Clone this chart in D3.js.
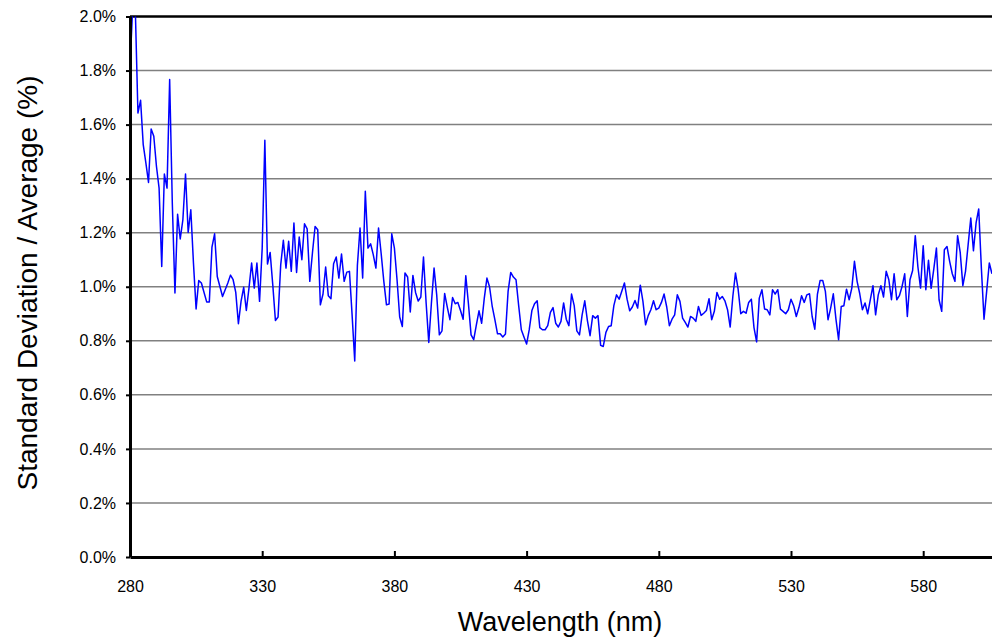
<!DOCTYPE html>
<html>
<head>
<meta charset="utf-8">
<script src="https://cdn.jsdelivr.net/npm/d3@7"></script>
<style>
  html, body { margin: 0; padding: 0; background: #fff; }
  svg { display: block; font-family: "Liberation Sans", Arial, sans-serif; }
</style>
</head>
<body>
<script>
// ---- data ----
const wavelengths = [
  280,281,282,283,284,285,286,287,288,289,290,291,292,293,294,295,296,297,298,299,
  300,301,302,303,304,305,306,307,309,310,311,312,313,315,317,318,
  319,320,321,322,323,324,325,326,327,328,329,330,331,332,333,334,335,336,337,338,339,
  340,341,342,343,344,345,346,347,348,349,350,351,352,353,354,355,356,357,358,359,
  360,361,362,363,364,365,366,367,368,369,370,371,372,373,374,375,376,377,378,379,
  380,381,382,383,384,385,386,387,388,389,390,391,392,393,394,395,396,397,398,399,
  400,401,402,403,404,405,406,407,408,409,410,411,412,413,414,415,416,417,418,419,
  420,421,422,423,424,425,426,427,428,429,430,431,432,433,434,435,436,437,438,439,
  440,441,442,443,444,445,446,447,448,449,450,451,452,453,454,455,456,457,458,459,
  460,461,462,463,464,465,466,467,468,469,470,471,472,473,474,475,476,477,478,479,
  480,481,482,483,484,485,486,487,488,489,490,491,492,493,494,495,496,497,498,499,
  500,501,502,503,504,505,506,507,508,509,510,511,512,513,514,515,516,517,518,519,
  520,521,522,523,524,525,526,527,528,529,530,531,532,533,534,535,536,537,538,539,
  540,541,542,543,544,545,546,547,548,549,550,551,552,553,554,555,556,557,558,559,
  560,561,562,563,564,565,566,567,568,569,570,571,572,573,574,575,576,577,578,579,
  580,581,582,583,584,585,586,587,588,589,590,591,592,593,594,595,596,597,598,599,
  600,601,602,603,604,605,606
];
const stdPct = [
  1.816,2.03,2.03,1.643,1.690,1.526,1.458,1.386,1.584,1.557,1.446,1.365,1.075,1.417,1.365,1.767,1.31,0.977,1.268,1.177,
  1.248,1.417,1.201,1.285,1.088,0.918,1.023,1.014,0.944,0.944,1.147,1.196,1.038,0.964,1.014,1.043,
  1.026,0.979,0.863,0.946,0.998,0.912,0.995,1.088,0.995,1.088,0.946,1.143,1.542,1.084,1.127,1.007,0.875,0.888,1.081,1.172,1.069,
  1.168,1.057,1.236,1.053,1.184,1.100,1.233,1.214,1.020,1.125,1.223,1.211,0.933,0.973,1.073,0.967,0.956,1.085,1.110,1.032,
  1.121,1.020,1.054,1.057,0.896,0.725,1.079,1.217,1.032,1.353,1.143,1.159,1.119,1.069,1.217,1.122,1.020,0.933,0.936,1.196,
  1.143,1.026,0.888,0.853,1.051,1.036,0.907,1.042,0.979,0.947,0.962,1.110,0.940,0.794,0.940,1.069,0.970,0.822,0.837,0.975,
  0.925,0.878,0.960,0.937,0.942,0.912,0.880,1.041,0.937,0.822,0.804,0.859,0.911,0.865,0.958,1.032,0.999,0.927,0.878,0.826,
  0.826,0.814,0.825,0.983,1.053,1.036,1.026,0.930,0.841,0.814,0.788,0.841,0.912,0.937,0.948,0.849,0.841,0.841,0.856,0.905,
  0.923,0.865,0.851,0.872,0.940,0.880,0.856,0.973,0.930,0.837,0.822,0.896,0.948,0.875,0.819,0.893,0.884,0.893,0.783,0.779,
  0.831,0.853,0.856,0.930,0.970,0.954,0.983,1.014,0.954,0.911,0.925,0.949,0.921,1.006,0.946,0.859,0.893,0.915,0.948,0.915,
  0.921,0.942,0.973,0.925,0.856,0.880,0.896,0.970,0.946,0.884,0.868,0.851,0.890,0.884,0.872,0.927,0.894,0.902,0.912,0.956,
  0.878,0.909,0.979,0.954,0.964,0.948,0.915,0.851,0.964,1.051,0.991,0.900,0.909,0.902,0.942,0.954,0.849,0.796,0.958,0.989,
  0.918,0.915,0.896,0.989,0.973,0.989,0.917,0.909,0.900,0.915,0.954,0.930,0.890,0.923,0.967,0.942,0.970,0.974,0.890,0.843,
  0.973,1.023,1.023,0.983,0.878,0.921,0.974,0.880,0.804,0.927,0.930,0.991,0.952,0.995,1.094,1.020,0.974,0.915,0.940,0.900,
  0.952,1.004,0.896,0.970,1.004,0.962,1.057,1.026,0.952,1.048,0.952,0.967,1.001,1.048,0.890,1.026,1.060,1.189,1.073,0.995,
  1.152,0.989,1.098,0.994,1.065,1.143,0.952,0.909,1.137,1.149,1.094,1.048,1.020,1.189,1.127,1.004,1.057,1.156,1.254,1.133,
  1.236,1.288,1.069,0.880,0.983,1.088,1.048
];
const xTicks = [280, 330, 380, 430, 480, 530, 580];
const yTicks = [0, 0.2, 0.4, 0.6, 0.8, 1.0, 1.2, 1.4, 1.6, 1.8, 2.0];
const xTitle = "Wavelength (nm)";
const yTitle = "Standard Deviation / Average (%)";

// ---- layout ----
const W = 992, H = 642;
const plotLeft = 130, plotBottom = 557, plotTop = 16.5;
const pxPerNm = 2.644;
const tickFont = 16, titleFont = 27;

const svg = d3.select("body").append("svg").attr("width", W).attr("height", H);

const x = d3.scaleLinear().domain([280, 610]).range([plotLeft, plotLeft + 330 * pxPerNm]);
const y = d3.scaleLinear().domain([0, 2]).range([plotBottom, plotTop]);

// gridlines
svg.append("g").selectAll("line")
  .data(yTicks.filter(v => v > 0 && v < 2))
  .join("line")
  .attr("x1", plotLeft).attr("x2", W)
  .attr("y1", d => y(d)).attr("y2", d => y(d))
  .attr("stroke", "#808080").attr("stroke-width", 1.5);

// top border
svg.append("line")
  .attr("x1", plotLeft).attr("x2", W)
  .attr("y1", y(2)).attr("y2", y(2))
  .attr("stroke", "#000").attr("stroke-width", 2.5);

// clip
svg.append("clipPath").attr("id", "plotclip")
  .append("rect").attr("x", plotLeft).attr("y", y(2)).attr("width", W - plotLeft).attr("height", plotBottom - y(2));

const data = wavelengths.map((w, i) => ({ w, v: stdPct[i] }));
svg.append("path")
  .datum(data)
  .attr("clip-path", "url(#plotclip)")
  .attr("fill", "none")
  .attr("stroke", "#0000ff")
  .attr("stroke-width", 1.5)
  .attr("stroke-linejoin", "round")
  .attr("d", d3.line().x(d => x(d.w)).y(d => y(d.v)));

// x axis
const xAxis = svg.append("g")
  .attr("transform", `translate(0,${plotBottom})`)
  .call(d3.axisBottom(x).tickValues(xTicks).tickSize(-6).tickSizeOuter(0).tickPadding(24).tickFormat(d3.format("d")));
xAxis.select(".domain").attr("stroke", "#000").attr("stroke-width", 3);
xAxis.selectAll(".tick line").attr("stroke", "#000").attr("stroke-width", 2);
xAxis.selectAll(".tick text").attr("font-size", tickFont).attr("fill", "#000")
  .attr("font-family", "'Liberation Sans', Arial, sans-serif");

// y axis
const yAxis = svg.append("g")
  .attr("transform", `translate(${plotLeft},0)`)
  .call(d3.axisLeft(y).tickValues(yTicks).tickSize(4).tickSizeOuter(0).tickPadding(10)
    .tickFormat(d => d.toFixed(1) + "%"));
yAxis.select(".domain").attr("stroke", "#000").attr("stroke-width", 3);
yAxis.selectAll(".tick line").attr("stroke", "#000").attr("stroke-width", 2);
yAxis.selectAll(".tick text").attr("font-size", tickFont).attr("fill", "#000")
  .attr("font-family", "'Liberation Sans', Arial, sans-serif");

// titles
svg.append("text")
  .attr("x", 560).attr("y", 622)
  .attr("text-anchor", "middle").attr("dominant-baseline", "central")
  .attr("font-size", titleFont).attr("fill", "#000")
  .text(xTitle);

svg.append("text")
  .attr("transform", "translate(27,283) rotate(-90)")
  .attr("text-anchor", "middle").attr("dominant-baseline", "central")
  .attr("font-size", 28).attr("fill", "#000")
  .text(yTitle);
</script>
</body>
</html>
